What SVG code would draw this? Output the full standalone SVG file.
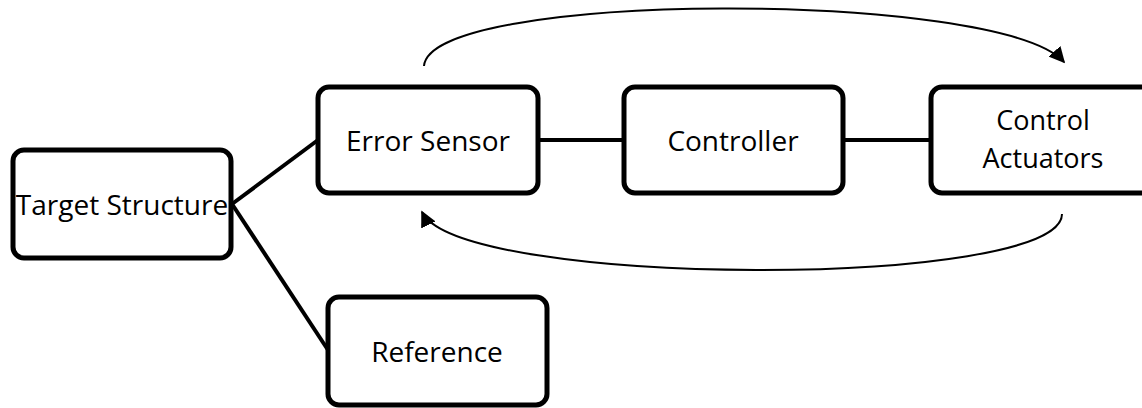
<svg xmlns="http://www.w3.org/2000/svg" width="1142" height="408" viewBox="0 0 1142 408">
<style>
.box{fill:#fff;stroke:#000;stroke-width:5}
.lbl{font-family:"Open Sans","Liberation Sans",sans-serif;font-size:28px;fill:#000;text-anchor:middle}
.sm{font-size:27px}
.conn{stroke:#000;stroke-width:4;fill:none}
.arc{stroke:#000;stroke-width:2;fill:none}
</style>
<defs>
<marker id="ah" viewBox="0 0 10 10" refX="9" refY="5" markerWidth="8" markerHeight="8" markerUnits="strokeWidth" orient="auto">
<path d="M0,0 L10,5 L0,10 z" fill="#000"/>
</marker>
</defs>
<g id="connectors">
<line class="conn" x1="232" y1="204" x2="318" y2="140"/>
<line class="conn" x1="232" y1="204" x2="328" y2="350"/>
<line class="conn" x1="538" y1="140" x2="624" y2="140"/>
<line class="conn" x1="843" y1="140" x2="931" y2="140"/>
<path class="arc" d="M424,66 C430,-10 1000,-10 1064,62" marker-end="url(#ah)"/>
<path class="arc" d="M1062,214 C1062,289 460,289 422,212" marker-end="url(#ah)"/>
</g>
<g id="target">
<rect class="box" x="13" y="150" width="218" height="108" rx="11"/>
<text class="lbl" x="122" y="215">Target Structure</text>
</g>
<g id="sensor">
<rect class="box" x="318" y="87" width="220" height="106" rx="11"/>
<text class="lbl" x="428" y="151">Error Sensor</text>
</g>
<g id="controller">
<rect class="box" x="624" y="87" width="219" height="106" rx="11"/>
<text class="lbl" x="733" y="151">Controller</text>
</g>
<g id="actuators">
<rect class="box" x="931" y="87" width="222" height="106" rx="11"/>
<text class="lbl sm" x="1043" y="130">Control</text>
<text class="lbl sm" x="1043" y="168">Actuators</text>
</g>
<g id="reference">
<rect class="box" x="328" y="297" width="219" height="108" rx="11"/>
<text class="lbl" x="437" y="362">Reference</text>
</g>
</svg>
